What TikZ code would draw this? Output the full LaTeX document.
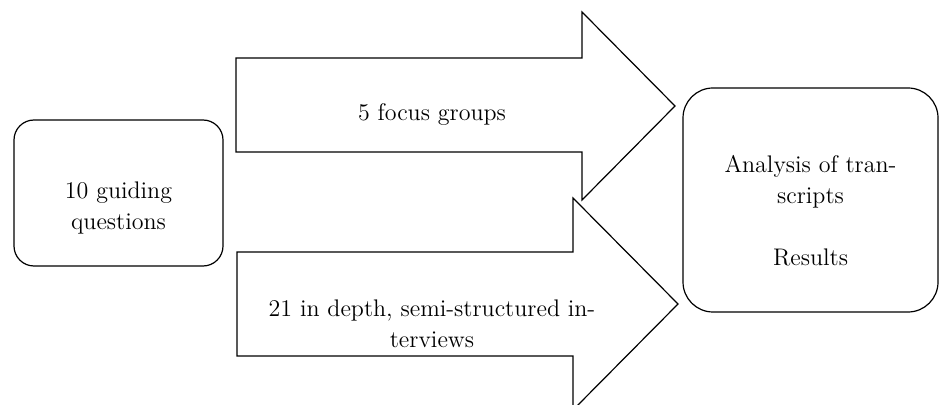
\documentclass[tikz,border=0pt]{standalone}
\usepackage{tikz}
\usetikzlibrary{positioning,calc}

\begin{document}
\begin{tikzpicture}[
  x=0.5pt, y=-0.5pt,
  every node/.style={font=\fontsize{12}{15.5}\selectfont},
  box/.style={
    rectangle,
    draw,
    line width=0.6pt,
    inner sep=0pt
  },
  blockarrow/.style={draw, fill=white, line width=0.6pt, line join=miter},
  labelbox/.style={
    rectangle,
    draw=none,
    fill=none,
    align=center,
    inner sep=2pt
  }
]
\clip (0,0) rectangle (940,405);

% --- Input (left) ---
\node[box, rounded corners=10pt, minimum width=104.5pt, minimum height=73pt] (guide) at (118.5,193) {};
\node[labelbox] (guidetext) at (118.5,208) {10 guiding\\questions};

% --- Output (right) ---
\node[box, rounded corners=15pt, minimum width=127.5pt, minimum height=112pt] (result) at (810.5,200) {};
\node[labelbox] (resulttext) at (810.5,211) {Analysis of tran-\\scripts\\[15.5pt]Results};

% Block arrows
\draw[blockarrow] (237,252) -- (573,252) -- (573,198) -- (678,304)
  -- (573,410) -- (573,356) -- (237,356) -- cycle;
\draw[blockarrow] (236,58) -- (582,58) -- (582,12) -- (675,106)
  -- (582,200) -- (582,152) -- (236,152) -- cycle;

\node[labelbox] (focus) at (432,115) {5 focus groups};
\node[labelbox] (interviews) at (432,324) {21 in depth, semi-structured in-\\terviews};

\end{tikzpicture}
\end{document}
